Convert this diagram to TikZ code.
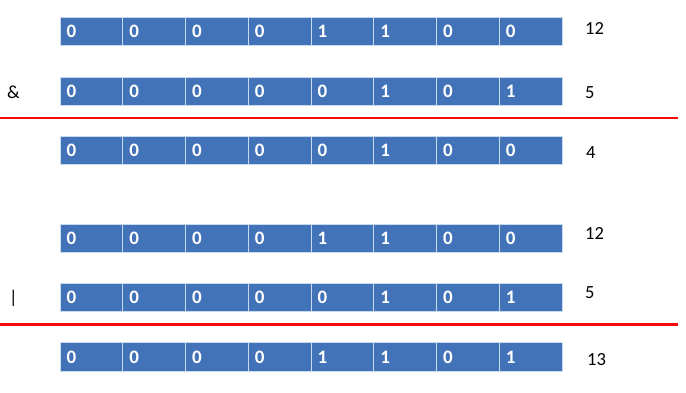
\documentclass[tikz,border=0pt]{standalone}
\usepackage{fontspec}
\setmainfont{Carlito}
\definecolor{cellblue}{HTML}{4272B8}
\definecolor{celledge}{HTML}{C9D9EE}
\definecolor{linered}{HTML}{F80808}
\begin{document}
\begin{tikzpicture}[x=1pt,y=-1pt,
  bitcell/.style={rectangle,fill=cellblue,draw=celledge,line width=0.8pt,
    minimum width=62.75pt,minimum height=28.5pt,inner sep=0pt,outer sep=0pt,
    anchor=north west},
  bittext/.style={anchor=west,inner sep=0pt,text=white,font=\fontsize{19}{19}\selectfont\bfseries},
  numlabel/.style={anchor=west,inner sep=0pt,font=\fontsize{18.5}{18.5}\selectfont,text=black},
  oplabel/.style={anchor=west,inner sep=0pt,font=\fontsize{18.5}{18.5}\selectfont,text=black},
  sumline/.style={draw=linered,line width=2.6pt}]
\useasboundingbox (0,0) rectangle (686,392);
\fill[white] (0,0) rectangle (686,392);
\newcommand{\bitrow}[3]{%
  \foreach \b [count=\i from 0] in {#3} {
    \node[bitcell] (#1c\i) at ({60+62.75*\i},#2) {};
    \node[bittext] (#1t\i) at ({66.5+62.75*\i},#2+14.5) {\b};
  }}
\bitrow{ra}{17}{0,0,0,0,1,1,0,0}
\bitrow{rb}{77}{0,0,0,0,0,1,0,1}
\bitrow{rc}{136}{0,0,0,0,0,1,0,0}
\bitrow{rd}{224}{0,0,0,0,1,1,0,0}
\bitrow{re}{283}{0,0,0,0,0,1,0,1}
\bitrow{rf}{342.5}{0,0,0,0,1,1,0,1}
\node[numlabel] (la) at (585,28) {12};
\node[numlabel] (lb) at (585,92.5) {5};
\node[numlabel] (lc) at (586,152.5) {4};
\node[numlabel] (ld) at (585,233.5) {12};
\node[numlabel] (le) at (585,292.5) {5};
\node[numlabel] (lf) at (587,359.5) {13};
\node[oplabel] (opand) at (7,92) {\&};
\node[oplabel] (opor) at (9,298) {|};
\coordinate (l1a) at (0,118);
\coordinate (l1b) at (678,118);
\coordinate (l2a) at (0,324.5);
\coordinate (l2b) at (678,324.5);
\draw[sumline] (l1a) -- (l1b);
\draw[sumline] (l2a) -- (l2b);
\end{tikzpicture}
\end{document}
